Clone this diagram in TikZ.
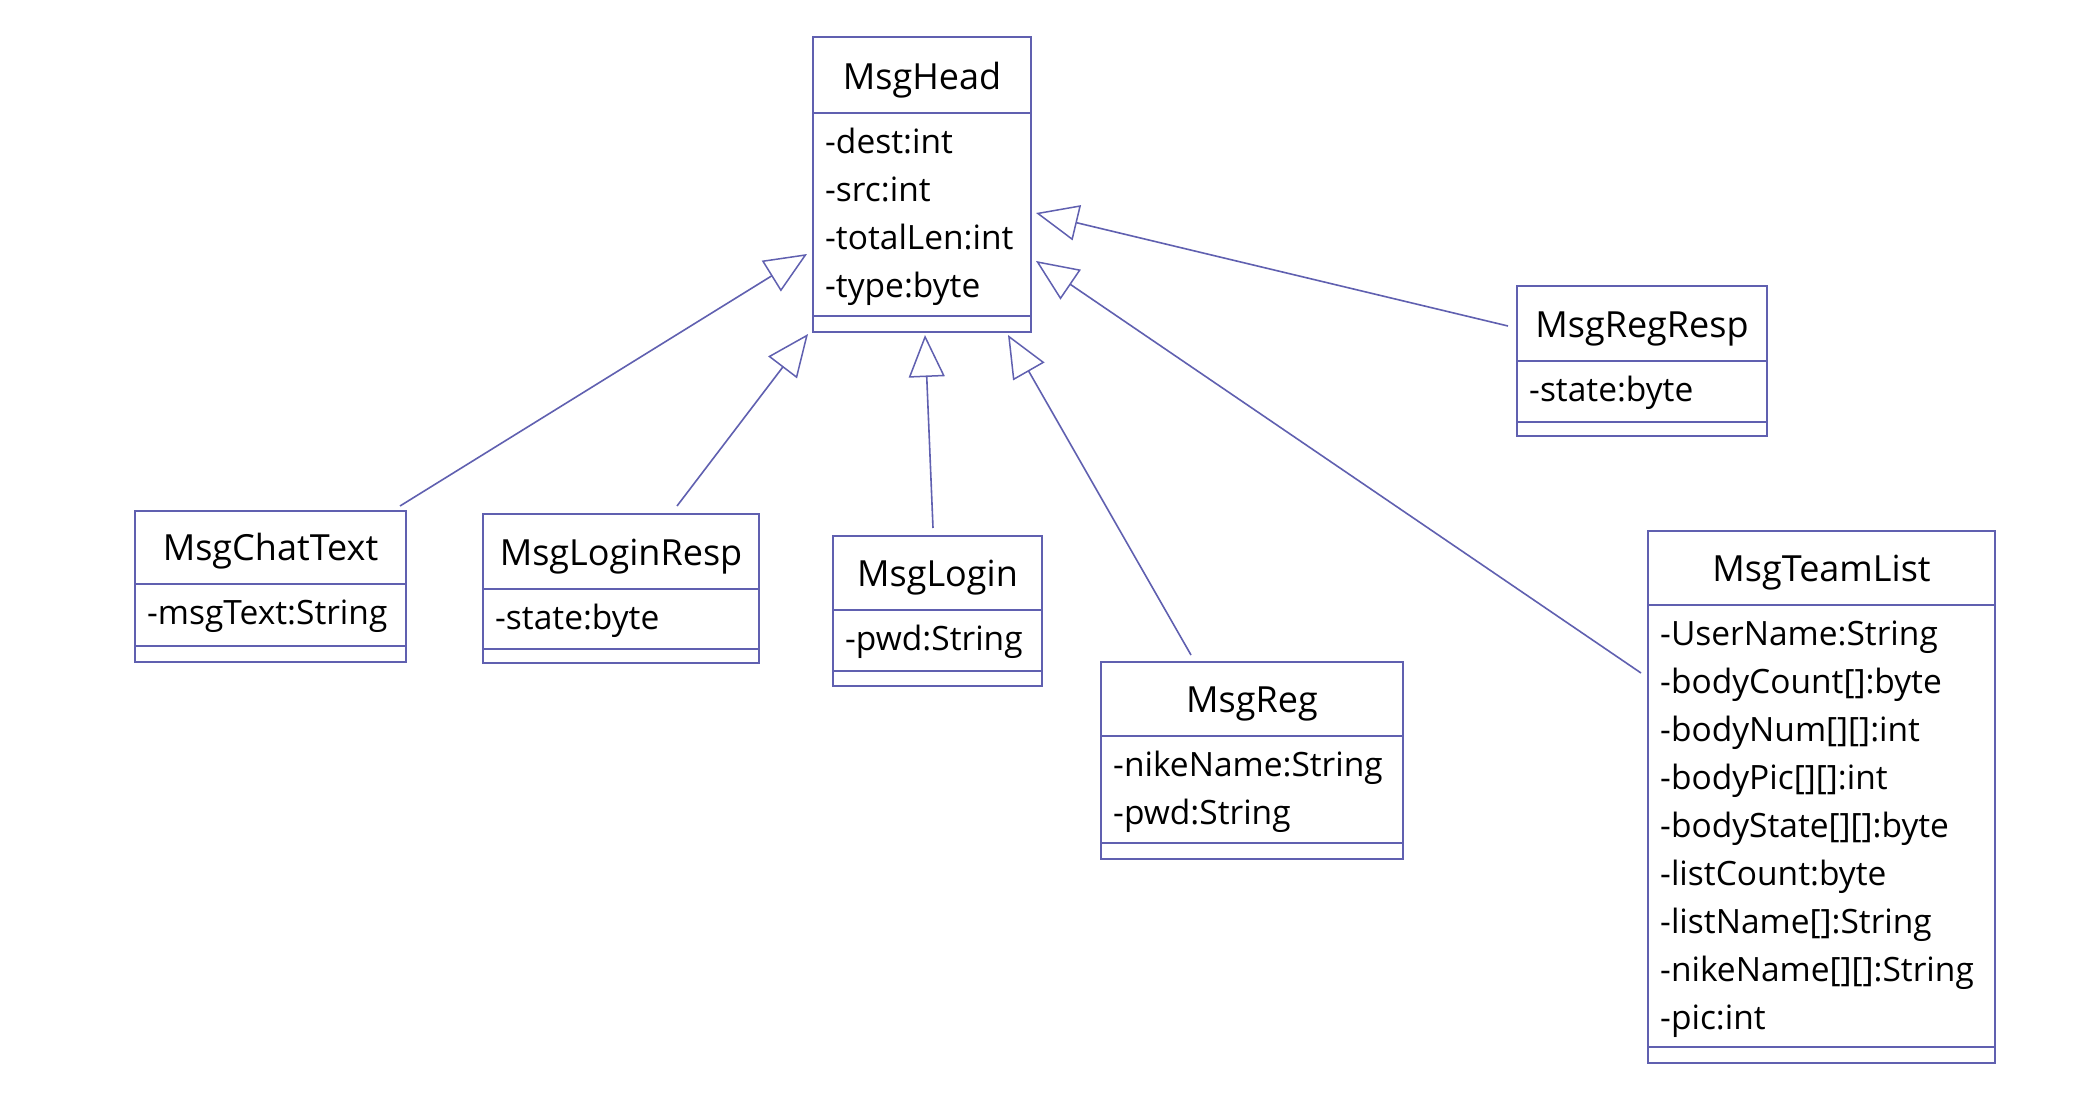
\documentclass[tikz,border=0pt]{standalone}
\usepackage{fontspec}
\setmainfont{Open Sans}
\usetikzlibrary{arrows.meta}
\definecolor{umlline}{RGB}{96,96,176}
\tikzset{
  frame/.style={draw=umlline, line width=1.3pt, inner sep=0pt, outer sep=0pt, anchor=north west},
  divider/.style={draw=umlline, line width=1.3pt},
  ctitle/.style={anchor=base, inner sep=0pt, font=\fontsize{36}{42}\selectfont},
  attr/.style={anchor=base west, inner sep=0pt, font=\fontsize{33.5}{40}\selectfont},
  gen/.style={draw=umlline, line width=1.6pt, -{Triangle[open, length=42pt, width=36pt, line width=1.5pt]}},
}
\newcommand\umlbox[7]{% name x1 y1 x2 y2 div1 div2
  \node[frame, minimum width={(#4-#2)*1pt}, minimum height={(#5-#3)*1pt}] (#1) at (#2,#3) {};
  \draw[divider] (#2,#6) -- (#4,#6);
  \draw[divider] (#2,#7) -- (#4,#7);
}
\begin{document}
\begin{tikzpicture}[x=1pt, y=-1pt]
\useasboundingbox[fill=white] (0,0) rectangle (2076,1116);

% MsgHead
\umlbox{head}{813}{37}{1031}{332}{113}{316}
\node[ctitle] (head-t) at ({(813+1031)/2},89) {MsgHead};
\node[attr] (head-a1) at (825,153) {-dest:int};
\node[attr] (head-a2) at (825,201) {-src:int};
\node[attr] (head-a3) at (825,249) {-totalLen:int};
\node[attr] (head-a4) at (825,297) {-type:byte};

% MsgRegResp
\umlbox{regresp}{1517}{286}{1767}{436}{361}{422}
\node[ctitle] (regresp-t) at ({(1517+1767)/2},337) {MsgRegResp};
\node[attr] (regresp-a1) at (1529,401) {-state:byte};

% MsgChatText
\umlbox{chat}{135}{511}{406}{662}{584}{646}
\node[ctitle] (chat-t) at ({(135+406)/2},560) {MsgChatText};
\node[attr] (chat-a1) at (147,624) {-msgText:String};

% MsgLoginResp
\umlbox{loginresp}{483}{514}{759}{663}{589}{649}
\node[ctitle] (loginresp-t) at ({(483+759)/2},565) {MsgLoginResp};
\node[attr] (loginresp-a1) at (495,629) {-state:byte};

% MsgLogin
\umlbox{login}{833}{536}{1042}{686}{610}{671}
\node[ctitle] (login-t) at ({(833+1042)/2},586) {MsgLogin};
\node[attr] (login-a1) at (845,650) {-pwd:String};

% MsgReg
\umlbox{reg}{1101}{662}{1403}{859}{736}{843}
\node[ctitle] (reg-t) at ({(1101+1403)/2},712) {MsgReg};
\node[attr] (reg-a1) at (1113,776) {-nikeName:String};
\node[attr] (reg-a2) at (1113,824) {-pwd:String};

% MsgTeamList
\umlbox{team}{1648}{531}{1995}{1063}{605}{1047}
\node[ctitle] (team-t) at ({(1648+1995)/2},581) {MsgTeamList};
\node[attr] (team-a1) at (1660,645) {-UserName:String};
\node[attr] (team-a2) at (1660,693) {-bodyCount[]:byte};
\node[attr] (team-a3) at (1660,741) {-bodyNum[][]:int};
\node[attr] (team-a4) at (1660,789) {-bodyPic[][]:int};
\node[attr] (team-a5) at (1660,837) {-bodyState[][]:byte};
\node[attr] (team-a6) at (1660,885) {-listCount:byte};
\node[attr] (team-a7) at (1660,933) {-listName[]:String};
\node[attr] (team-a8) at (1660,981) {-nikeName[][]:String};
\node[attr] (team-a9) at (1660,1029) {-pic:int};

% connector end points
\coordinate (chat-s) at (400,506);
\coordinate (chat-e) at (807,254);
\coordinate (loginresp-s) at (677,506);
\coordinate (loginresp-e) at (808,334);
\coordinate (login-s) at (933,528);
\coordinate (login-e) at (925,335);
\coordinate (reg-s) at (1191,655);
\coordinate (reg-e) at (1008,335);
\coordinate (team-s) at (1641,673);
\coordinate (team-e) at (1036,261);
\coordinate (regresp-s) at (1508,326);
\coordinate (regresp-e) at (1036,213);

\draw[gen] (chat-s) -- (chat-e);
\draw[gen] (loginresp-s) -- (loginresp-e);
\draw[gen] (login-s) -- (login-e);
\draw[gen] (reg-s) -- (reg-e);
\draw[gen] (team-s) -- (team-e);
\draw[gen] (regresp-s) -- (regresp-e);
\end{tikzpicture}
\end{document}
